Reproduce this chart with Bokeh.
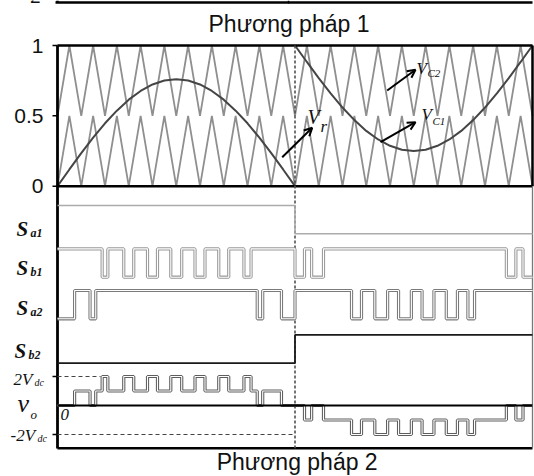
import numpy as np
from bokeh.plotting import figure
from bokeh.models import Range1d, Label, Arrow, OpenHead
from bokeh.core.properties import value
from bokeh.embed import file_html
from bokeh.resources import INLINE

# ---------------- data (time in half-cycles: 0..1 positive, 1..2 negative) ----------------
t_half = [0.0, 0.05, 0.1, 0.15, 0.2, 0.25, 0.3, 0.35, 0.4, 0.45, 0.5,
          0.55, 0.6, 0.65, 0.7, 0.75, 0.8, 0.85, 0.9, 0.95, 1.0]
# reference Vr, first half (rises from 0) and second half (falls from 1)
vr_first = [0.0, 0.119, 0.235, 0.345, 0.447, 0.537, 0.615, 0.677, 0.723, 0.751, 0.76,
            0.751, 0.723, 0.677, 0.615, 0.537, 0.447, 0.345, 0.235, 0.119, 0.0]
vr_second = [1.0, 0.883, 0.768, 0.660, 0.559, 0.470, 0.393, 0.332, 0.287, 0.259, 0.25,
             0.259, 0.287, 0.332, 0.393, 0.470, 0.559, 0.660, 0.768, 0.883, 1.0]
# carriers: valley / peak levels, 20 periods over the two half-cycles
carrier_c1 = [0.0, 0.5]
carrier_c2 = [0.5, 1.0]
carrier_periods = 20
# y tick labels of the upper panel
y_ticks = [1.0, 0.5, 0.0]
y_tick_labels = ["1", "0.5", "0"]

# switching signals: initial state and toggle instants
sa1_start, sa1_edges = 1, [1.0]
sb1_start, sb1_edges = 1, [0.188, 0.212, 0.279, 0.321, 0.379, 0.421, 0.477, 0.523,
                           0.579, 0.621, 0.679, 0.721, 0.785, 0.815,
                           1.0, 1.04, 1.07, 1.12, 1.89, 1.93, 1.96]
sa2_start, sa2_edges = 0, [0.072, 0.137, 0.161, 0.841, 0.864, 0.943, 1.0,
                           1.238, 1.28, 1.336, 1.39, 1.436, 1.49, 1.535, 1.585,
                           1.637, 1.684, 1.728, 1.756]
sb2_start, sb2_edges = 0, [1.0]

# ---------------- layout helpers (screen px -> data) ----------------
PXX, PXY = 237.5, 140.7
def X(px):
    return (px - 57.0) / PXX
def Y(py):
    return (185.7 - py) / PXY

LV = {"sa1": Y(233.3), "sb1": Y(276.7), "sa2": Y(318.3), "sb2": Y(362.7)}
SW = Y(205) - Y(233.3)          # switching-signal swing
VO0 = Y(405.0)
VSTEP = 0.103
def vo_y(v):
    return VO0 + v * VSTEP

def steps(start, edges):
    xs, ys, s = [0.0], [start], start
    for e in edges:
        xs += [e, e]
        ys += [s, 1 - s]
        s = 1 - s
    xs.append(2.0)
    ys.append(s)
    return xs, ys

def state(start, edges, t):
    n = sum(1 for e in edges if e <= t)
    return start if n % 2 == 0 else 1 - start

p = figure(width=534, height=476, output_backend="svg", toolbar_location=None,
           x_range=Range1d(X(0), X(534)), y_range=Range1d(Y(476), Y(0)),
           x_axis_type=None, y_axis_type=None,
           min_border_left=0, min_border_right=0, min_border_top=0, min_border_bottom=0,
           background_fill_color="white", border_fill_color="white",
           outline_line_color=None)
p.grid.visible = False

# ---- carriers ----
ct = np.linspace(0.0, 2.0, 2 * carrier_periods + 1)
c1 = [carrier_c1[i % 2] for i in range(len(ct))]
c2 = [carrier_c2[i % 2] for i in range(len(ct))]
p.line(ct, c1, line_color="#8f8f8f", line_width=1.8)
p.line(ct, c2, line_color="#8f8f8f", line_width=1.8)

# ---- reference ----
p.multi_line([t_half, [1.0 + t for t in t_half]], [vr_first, vr_second],
             line_color="#454545", line_width=2)

# ---- previous panel remnant at very top ----
p.line([X(55), 2.0], [Y(2), Y(2)], line_color="black", line_width=2.5)
p.line([0, 0], [Y(0), Y(2)], line_color="black", line_width=2.5)
p.line([X(288), X(288)], [Y(0), Y(3)], line_color="black", line_width=1.5)

# ---- frames ----
p.line([0, 2], [1, 1], line_color="black", line_width=2.5)
p.line([0, 2], [0, 0], line_color="black", line_width=2.5)
p.line([2, 2], [0, 1], line_color="black", line_width=2.5)
p.line([0, 0], [1, Y(448)], line_color="black", line_width=2.8)
p.line([0, 2], [Y(447.7), Y(447.7)], line_color="black", line_width=2.5)
p.line([2, 2], [0, Y(447.7)], line_color="#777777", line_width=1.3)

# ---- y ticks ----
tick_y = y_ticks + [vo_y(2), vo_y(-2)]
p.segment(x0=[X(52)] * len(tick_y), x1=[0] * len(tick_y), y0=tick_y, y1=tick_y,
          line_color="black", line_width=1.5)
p.text(x=[X(43)] * 3, y=y_ticks, text=y_tick_labels, text_align="right",
       text_baseline="middle", text_font=value("Liberation Sans"),
       text_font_size=value("21px"), text_color="#111111")

# ---- dashed guides ----
p.line([1.0, 1.0], [1, Y(447.7)], line_color="#505050", line_width=1.6, line_dash="3 2")
p.line([0, X(100)], [vo_y(2), vo_y(2)], line_color="#444444", line_width=1.2, line_dash="4 3")
p.line([0, 1.0], [vo_y(-2), vo_y(-2)], line_color="#444444", line_width=1.2, line_dash="4 3")

# ---- switching signals ----
def draw_sig(start, edges, base, color, hollow=True, width=3.2):
    xs, ys = steps(start, edges)
    yy = [base + v * SW for v in ys]
    p.line(xs, yy, line_color=color, line_width=width)
    if hollow:
        p.line(xs, yy, line_color="white", line_width=1.1)

draw_sig(sa1_start, sa1_edges, LV["sa1"], "#ababab", hollow=False, width=1.6)
draw_sig(sb1_start, sb1_edges, LV["sb1"], "#999999")
draw_sig(sa2_start, sa2_edges, LV["sa2"], "#7a7a7a")
draw_sig(sb2_start, sb2_edges, LV["sb2"], "#1a1a1a", hollow=False, width=1.8)

# ---- output voltage vo = Sa1 - Sb1 + Sa2 - Sb2 (units of Vdc) ----
allE = sorted(set(sa1_edges + sb1_edges + sa2_edges + sb2_edges))
bounds = [0.0] + allE + [2.0]
vx, vy = [], []
for a, b in zip(bounds[:-1], bounds[1:]):
    m = 0.5 * (a + b)
    v = (state(sa1_start, sa1_edges, m) - state(sb1_start, sb1_edges, m)
         + state(sa2_start, sa2_edges, m) - state(sb2_start, sb2_edges, m))
    vx += [a, b]
    vy += [vo_y(v), vo_y(v)]
p.line(vx, vy, line_color="#5e5e5e", line_width=3.2)
p.line(vx, vy, line_color="white", line_width=1.1)
p.line([0, 2], [VO0, VO0], line_color="black", line_width=1.8)

# ---- arrows ----
for (x0, y0, x1, y1) in [(281.7, 156.7, 311.7, 127.3),
                         (386.7, 90.0, 415.0, 69.3),
                         (380.0, 141.7, 415.0, 121.7)]:
    p.add_layout(Arrow(end=OpenHead(size=8, line_width=2, line_color="black"),
                       x_start=X(x0), y_start=Y(y0), x_end=X(x1), y_end=Y(y1),
                       line_color="black", line_width=2))

# ---- texts (y given as visual centre) ----
def lab(px, py, text, size, font="Liberation Serif", style="italic", align="left", color="#111111"):
    p.add_layout(Label(x=X(px), y=Y(py), text=text, text_font=font,
                       text_font_size=size, text_font_style=style,
                       text_align=align, text_baseline="middle", text_color=color))

lab(40, -4, "2", "19px", font="Liberation Sans", style="normal", align="right")
lab(288.5, 23, "Phương pháp 1", "23px", font="Liberation Sans", style="normal", align="center")
lab(296.7, 461, "Phương pháp 2", "23px", font="Liberation Sans", style="normal", align="center")

lab(307, 116.5, "V", "20px")
lab(320, 126, "r", "17px")
lab(416, 67.5, "V", "17px")
lab(427, 72.5, "C2", "11px")
lab(421, 114, "V", "17px")
lab(432, 120, "C1", "11px")

lab(16, 228.5, "S", "21px", style="bold italic")
lab(30, 232, "a1", "12px", style="bold italic")
lab(16, 267.5, "S", "21px", style="bold italic")
lab(30, 271, "b1", "12px", style="bold italic")
lab(16, 307.5, "S", "21px", style="bold italic")
lab(30, 311, "a2", "12px", style="bold italic")
lab(14, 350.5, "S", "21px", style="bold italic")
lab(28, 354, "b2", "12px", style="bold italic")

lab(13, 378.5, "2V", "17px")
lab(34, 382, "dc", "10px")
lab(17, 403, "v", "26px")
lab(30, 414, "o", "13px")
lab(60, 414, "0", "17px")
lab(10, 435, "-2V", "17px")
lab(37, 438, "dc", "10px")

open("out.html", "w").write(file_html(p, INLINE))
